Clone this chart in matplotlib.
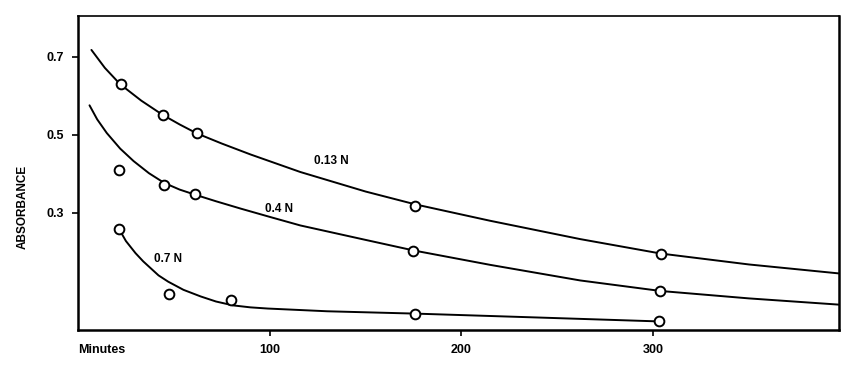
import matplotlib
matplotlib.use("Agg")
import matplotlib.pyplot as plt

plt.rcParams['font.family'] = ['Liberation Sans', 'DejaVu Sans']

# measured points (minutes, absorbance)
pts_013_x = [22.4, 44.3, 62, 176, 304]
pts_013_y = [0.630, 0.550, 0.504, 0.318, 0.194]
pts_04_x = [21.4, 44.8, 61, 175, 303.6]
pts_04_y = [0.411, 0.372, 0.349, 0.202, 0.099]
pts_07_x = [21.4, 47.4, 79.7, 176, 303]
pts_07_y = [0.259, 0.091, 0.078, 0.042, 0.024]

# hand-drawn curves
curve_013_x = [7, 14, 22, 33, 44, 53, 62, 75, 90, 116, 150, 176, 215, 262, 304, 350, 397]
curve_013_y = [0.718, 0.672, 0.630, 0.588, 0.552, 0.527, 0.504, 0.478, 0.450, 0.405, 0.355, 0.322, 0.280, 0.233, 0.196, 0.168, 0.145]
curve_04_x = [6, 10, 15, 22, 29, 37, 45, 53, 61, 72, 85, 100, 116, 150, 175, 215, 262, 304, 350, 397]
curve_04_y = [0.576, 0.540, 0.505, 0.465, 0.433, 0.402, 0.377, 0.360, 0.347, 0.330, 0.311, 0.290, 0.268, 0.231, 0.204, 0.167, 0.127, 0.100, 0.081, 0.065]
curve_07_x = [21.4, 25, 30, 34, 38, 42, 47, 55, 64, 72, 81, 90, 99, 130, 176, 240, 303]
curve_07_y = [0.259, 0.228, 0.197, 0.176, 0.158, 0.140, 0.124, 0.103, 0.086, 0.073, 0.063, 0.058, 0.055, 0.048, 0.042, 0.032, 0.022]

labels = ["0.13 N", "0.4 N", "0.7 N"]
label_x = [132, 105, 47]
label_y = [0.434, 0.31, 0.181]

xticks = [0, 100, 200, 300]
xticklabels = ["Minutes", "100", "200", "300"]
yticks = [0.3, 0.5, 0.7]
yticklabels = ["0.3", "0.5", "0.7"]

fig = plt.figure(figsize=(8.47, 3.79), dpi=100)
ax = fig.add_axes([0.0921, 0.1293, 0.8985, 0.8285])

for cx, cy in [(curve_013_x, curve_013_y), (curve_04_x, curve_04_y), (curve_07_x, curve_07_y)]:
    ax.plot(cx, cy, color='black', lw=1.4, solid_capstyle='round', solid_joinstyle='round')
for px, py in [(pts_013_x, pts_013_y), (pts_04_x, pts_04_y), (pts_07_x, pts_07_y)]:
    ax.plot(px, py, linestyle='none', marker='o', markersize=7, markerfacecolor='white',
            markeredgecolor='black', markeredgewidth=1.4, zorder=3)

for t, lx, ly in zip(labels, label_x, label_y):
    ax.text(lx, ly, t, fontsize=8.5, fontweight='bold', ha='center', va='center')

ax.set_xlim(0, 397)
ax.set_ylim(0, 0.805)
ax.set_xticks(xticks)
ax.set_xticklabels(xticklabels, fontsize=9, fontweight='bold')
ax.get_xticklabels()[0].set_ha('left')
ax.set_yticks(yticks)
ax.set_yticklabels(yticklabels, fontsize=9, fontweight='bold')
ax.tick_params(direction='out', length=4, width=1.2, pad=6)
ax.xaxis.get_major_ticks()[0].tick1line.set_visible(False)
for s in ax.spines.values():
    s.set_linewidth(1.8)
ax.spines['top'].set_linewidth(1.2)

fig.text(0.027, 0.455, "ABSORBANCE", rotation=90, fontsize=8.5, fontweight='bold',
         ha='center', va='center')

fig.savefig("out.png", dpi=100)
